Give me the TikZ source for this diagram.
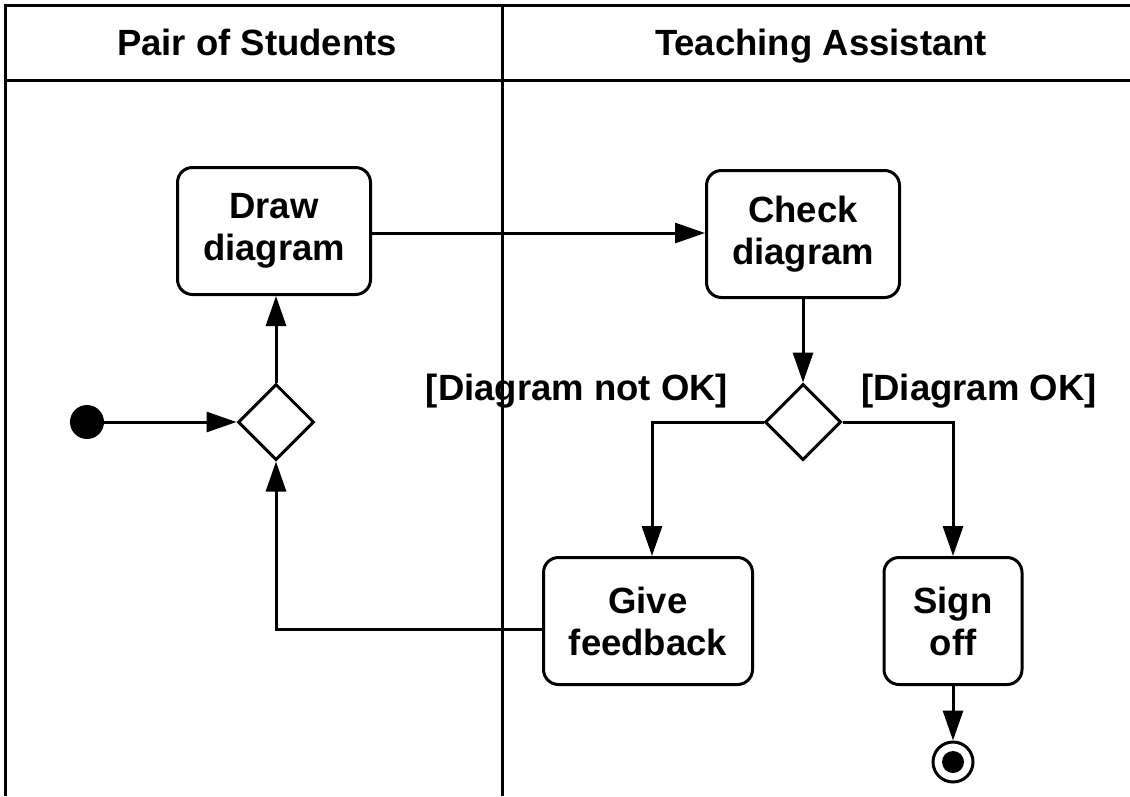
\documentclass[tikz,border=0pt]{standalone}
\usepackage{fontspec}
\setmainfont{Liberation Sans}
\usetikzlibrary{shapes.geometric,arrows.meta}

\tikzset{
  lane/.style={line width=3pt},
  action/.style={draw, line width=3pt, rounded corners=15pt, align=center,
    inner sep=0pt, minimum height=127pt},
  decision/.style={draw, line width=3pt, diamond, aspect=1, inner sep=0pt,
    minimum width=76pt, minimum height=76pt, fill=white},
  startnode/.style={circle, fill=black, inner sep=0pt, minimum size=34pt},
  flow/.style={line width=3pt, -{Triangle[length=30pt,width=20pt]}},
  guard/.style={inner sep=0pt, anchor=base},
  heading/.style={inner sep=0pt, anchor=base},
}

\begin{document}
\begin{tikzpicture}[x=1pt, y=-1pt,
  every node/.append style={font=\fontsize{36.5}{42}\selectfont\bfseries}]
\useasboundingbox (0,0) rectangle (1130,796);

% swimlane frame
\draw[lane] (5,796) -- (5,5) -- (1130,5);
\draw[lane] (5,80) -- (1130,80);
\draw[lane] (502,5) -- (502,796);

\node[heading] (h1) at (257,55) {Pair of Students};
\node[heading] (h2) at (821,55) {Teaching Assistant};

% activities
\node[action, minimum width=193pt] (draw) at (274,231) {Draw\\diagram};
\node[action, minimum width=193pt] (check) at (803,234) {Check\\diagram};
\node[action, minimum width=209pt] (feedback) at (648,621) {Give\\feedback};
\node[action, minimum width=138pt] (sign) at (953,621) {Sign\\off};

% control nodes
\node[startnode] (init) at (87,422) {};
\node[decision] (merge) at (276,422) {};
\node[decision] (branch) at (803,422) {};
\node[circle, draw, line width=3pt, inner sep=0pt, minimum size=40pt] (final) at (953,762) {};
\node[circle, fill=black, inner sep=0pt, minimum size=22pt] (finaldot) at (final.center) {};

% guards
\node[guard] (nok) at (577,400) {[Diagram not OK]};
\node[guard] (ok) at (979,400) {[Diagram OK]};

% flows
\draw[flow] (init) -- (merge.west);
\draw[flow] (merge.north) -- (merge.north |- draw.south);
\draw[flow] (draw.east |- 0,233) -- (check.west |- 0,233);
\draw[flow] (check.south) -- (branch.north);
\draw[flow] (branch.west) -| ([xshift=4pt]feedback.north);
\draw[flow] (branch.east) -| (sign.north);
\draw[flow] ([yshift=-8pt]feedback.west) -| (merge.south);
\draw[flow] (sign.south) -- (final.north);
\end{tikzpicture}
\end{document}
